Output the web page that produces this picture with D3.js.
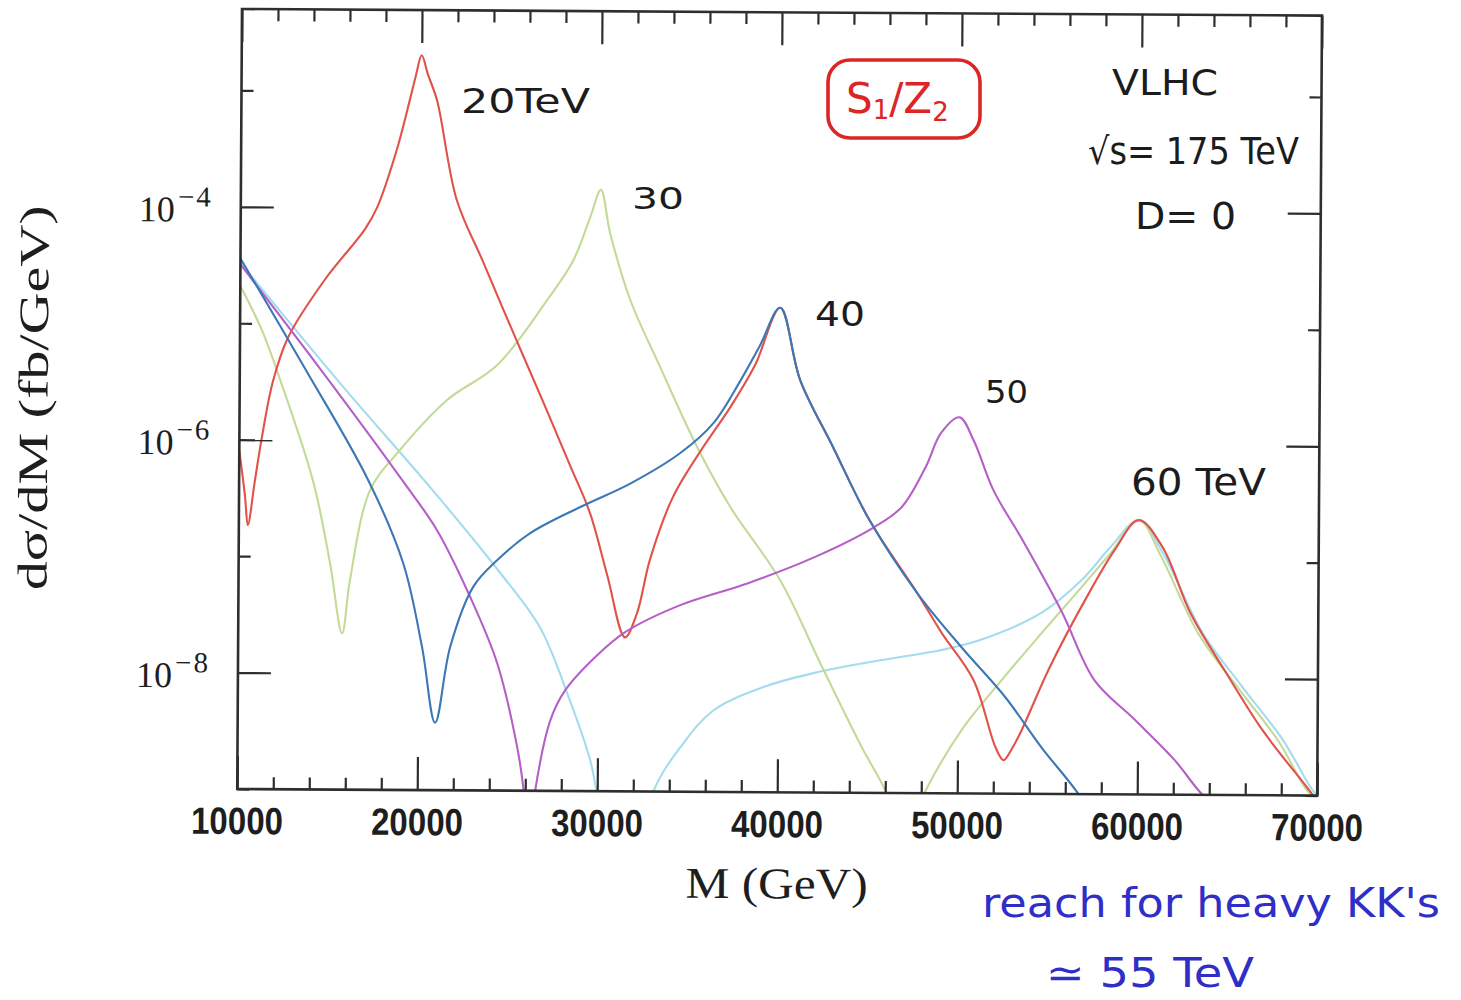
<!DOCTYPE html>
<html>
<head>
<meta charset="utf-8">
<script src="https://cdn.jsdelivr.net/npm/d3@7/dist/d3.min.js"></script>
<style>
  body { margin: 0; background: #ffffff; }
  svg { display: block; }
</style>
</head>
<body>
<svg id="chart" width="1461" height="1000"></svg>
<script>
// ---- axis ticks -------------------------------------------------------
const massTicks = [10000, 20000, 30000, 40000, 50000, 60000, 70000];
const massTickLabels = ["10000", "20000", "30000", "40000", "50000", "60000", "70000"];
const massMinorTicks = [12000, 14000, 16000, 18000, 22000, 24000, 26000, 28000,
  32000, 34000, 36000, 38000, 42000, 44000, 46000, 48000,
  52000, 54000, 56000, 58000, 62000, 64000, 66000, 68000];
const decadeTicks = [1e-4, 1e-6, 1e-8];
const decadeTickExponents = ["\u22124", "\u22126", "\u22128"];
const decadeMinorTicks = [1e-3, 1e-5, 1e-7, 1e-9];

// ---- dsigma/dM (fb/GeV) versus M (GeV), one curve per compactification scale ----
const seriesNames = ["20 TeV", "30 TeV", "40 TeV", "50 TeV", "60 TeV"];
const seriesColors = ["#e0524a", "#c3da98", "#3b78b5", "#b65fc6", "#a3dcef"];

const mass20 = [10000, 10330, 10500, 10880, 11250, 11850, 12670, 14700, 16900, 17570,
  18660, 19360, 19690, 20000, 20360, 20860, 22000, 23470, 25160, 26870,
  28390, 29500, 30480, 31490, 32150, 32850, 34110, 35760, 37250, 38640,
  40000, 41130, 42980, 45030, 47720, 49070, 50870, 52110, 52560, 53000,
  53550, 55090, 57120, 58660, 60000, 61330, 62910, 64930, 66950, 69420, 70000];
const xsec20 = [8.0e-7, 3.3e-7, 1.85e-7, 4.5e-7, 1.05e-6, 3.2e-6, 7.6e-6, 2.4e-5, 6.5e-5, 1.0e-4,
  3.2e-4, 8.5e-4, 1.38e-3, 2.05e-3, 1.39e-3, 8.5e-4, 1.17e-4, 3.5e-5, 8.7e-6, 2.18e-6,
  6.2e-7, 2.45e-7, 7.2e-8, 2.1e-8, 3.4e-8, 9.8e-8, 3.4e-7, 9.1e-7, 2.0e-6, 4.7e-6,
  1.45e-5, 3.5e-6, 9.3e-7, 2.2e-7, 5.2e-8, 2.4e-8, 9.4e-9, 2.5e-9, 1.94e-9, 2.4e-9,
  3.5e-9, 1.22e-8, 4.9e-8, 1.25e-7, 2.27e-7, 1.33e-7, 3.6e-8, 1.1e-8, 3.6e-9, 1.18e-9, 9.0e-10];

const mass30 = [10000, 11220, 12240, 14100, 15080, 15770, 16190, 17280, 18770, 21530,
  24290, 27050, 28490, 29420, 30000, 30530, 31670, 33360, 35440, 37300,
  40100, 42350, 44660, 46010, 47100, 48240, 50220, 52420, 54630, 56840,
  58440, 60000, 61200, 63360, 65600, 67840, 69350, 70000];
const xsec30 = [2.1e-5, 8.7e-6, 3.3e-6, 4.5e-7, 8.8e-8, 2.2e-8, 6.3e-8, 3.75e-7, 7.8e-7, 2.25e-6,
  4.5e-6, 1.64e-5, 3.6e-5, 8.5e-5, 1.46e-4, 6.2e-5, 1.66e-5, 4.4e-6, 9.1e-7, 2.8e-7,
  6.6e-8, 1.29e-8, 2.5e-9, 1.05e-9, 4.0e-10, 1.05e-9, 3.5e-9, 9.4e-9, 2.4e-8, 6.0e-8,
  1.18e-7, 2.27e-7, 1.15e-7, 2.4e-8, 8.2e-9, 2.9e-9, 1.15e-9, 9.0e-10];

const mass40 = [10000, 13630, 17160, 19140, 20220, 20970, 21780, 23040, 24360, 26190,
  28960, 31730, 34500, 36330, 37810, 38900, 40000, 41130, 42980, 45030,
  47720, 50190, 52650, 54670, 56580, 58000];
const xsec40 = [3.6e-5, 4.1e-6, 4.6e-7, 8.9e-8, 1.69e-8, 3.8e-9, 1.7e-8, 5.6e-8, 9.5e-8, 1.63e-7,
  2.75e-7, 4.4e-7, 8.1e-7, 1.47e-6, 3.4e-6, 6.9e-6, 1.45e-5, 3.5e-6, 9.3e-7, 2.2e-7,
  5.2e-8, 1.8e-8, 6.7e-9, 2.5e-9, 1.08e-9, 5.0e-10];

const mass50 = [10000, 14570, 19050, 21010, 22870, 24400, 25530, 25890, 26200, 26550,
  27360, 28180, 29950, 31500, 34550, 38270, 41930, 45260, 46810, 48130,
  48990, 50000, 50790, 51920, 53500, 55740, 57590, 59830, 62070, 63410, 65000];
const xsec50 = [3.2e-5, 3.9e-6, 4.6e-7, 1.71e-7, 4.6e-8, 1.24e-8, 2.4e-9, 1.07e-9, 3.0e-10, 1.0e-9,
  4.0e-9, 7.3e-9, 1.47e-8, 2.33e-8, 4.0e-8, 6.2e-8, 1.04e-7, 1.9e-7, 2.85e-7, 6.3e-7,
  1.25e-6, 1.7e-6, 1.08e-6, 4.0e-7, 1.55e-7, 3.7e-8, 9.5e-9, 4.4e-9, 1.98e-9, 1.09e-9, 6.0e-10];

const mass60 = [10000, 15570, 20610, 24420, 26780, 28300, 29600, 29940, 31500, 33110,
  34600, 36420, 39200, 41970, 45690, 49080, 51300, 54630, 56840, 58440,
  60000, 61340, 63580, 65830, 68070, 69640, 70000];
const xsec60 = [3.3e-5, 3.1e-6, 4.0e-7, 7.8e-8, 2.5e-8, 6.9e-9, 1.84e-9, 1.05e-9, 1.0e-10, 1.0e-9,
  2.4e-9, 5.0e-9, 8.0e-9, 1.06e-8, 1.38e-8, 1.7e-8, 2.1e-8, 3.6e-8, 6.9e-8, 1.33e-7,
  2.27e-7, 1.19e-7, 2.45e-8, 8.4e-9, 3.0e-9, 1.17e-9, 1.0e-9];

// paint order: lighter curves first, the 40 TeV curve on top
const drawOrder = [4, 1, 0, 3, 2];

// ---- layout -------------------------------------------------------------
const plotLeft = 242, plotTop = 9, plotW = 1080, plotH = 780, tilt = 0.35;
const inkColor = "#2e2e2e";

const svg = d3.select("#chart");
const massSets = [mass20, mass30, mass40, mass50, mass60];
const xsecSets = [xsec20, xsec30, xsec40, xsec50, xsec60];
const series = seriesNames.map((name, i) => ({
  name,
  color: seriesColors[i],
  points: massSets[i].map((m, j) => [m, xsecSets[i][j]])
}));

const x = d3.scaleLinear().domain([10000, 70000]).range([0, plotW]);
const y = d3.scaleLog().domain([1e-9, 5e-3]).range([plotH, 0]);

const g = svg.append("g")
  .attr("transform", `translate(${plotLeft},${plotTop}) rotate(${tilt})`);

g.append("clipPath").attr("id", "plot-clip")
  .append("rect").attr("x", 0).attr("y", 0).attr("width", plotW).attr("height", plotH);

// curves
const line = d3.line()
  .x(d => x(d[0]))
  .y(d => y(d[1]))
  .curve(d3.curveCatmullRom.alpha(0.5));

const curveLayer = g.append("g").attr("clip-path", "url(#plot-clip)");
curveLayer.selectAll("path.curve")
  .data(drawOrder.map(i => series[i]))
  .join("path")
  .attr("class", "curve")
  .attr("d", d => line(d.points))
  .attr("fill", "none")
  .attr("stroke", d => d.color)
  .attr("stroke-width", 2.1)
  .attr("stroke-linejoin", "round");

// ticks on all four sides, pointing into the frame
function styleAxis(sel) {
  sel.select(".domain").remove();
  sel.selectAll(".tick line").attr("stroke", inkColor).attr("stroke-width", 2.2);
  sel.selectAll(".tick text").remove();
}
const majorLen = 33, minorLen = 12;
g.append("g").attr("transform", `translate(0,${plotH})`)
  .call(d3.axisBottom(x).tickValues(massTicks).tickSize(-majorLen)).call(styleAxis);
g.append("g").attr("transform", `translate(0,${plotH})`)
  .call(d3.axisBottom(x).tickValues(massMinorTicks).tickSize(-minorLen)).call(styleAxis);
g.append("g")
  .call(d3.axisTop(x).tickValues(massTicks).tickSize(-majorLen)).call(styleAxis);
g.append("g")
  .call(d3.axisTop(x).tickValues(massMinorTicks).tickSize(-minorLen)).call(styleAxis);
g.append("g")
  .call(d3.axisLeft(y).tickValues(decadeTicks).tickSize(-majorLen)).call(styleAxis);
g.append("g")
  .call(d3.axisLeft(y).tickValues(decadeMinorTicks).tickSize(-minorLen)).call(styleAxis);
g.append("g").attr("transform", `translate(${plotW},0)`)
  .call(d3.axisRight(y).tickValues(decadeTicks).tickSize(-majorLen)).call(styleAxis);
g.append("g").attr("transform", `translate(${plotW},0)`)
  .call(d3.axisRight(y).tickValues(decadeMinorTicks).tickSize(-minorLen)).call(styleAxis);

// frame
g.append("rect")
  .attr("x", 0).attr("y", 0).attr("width", plotW).attr("height", plotH)
  .attr("fill", "none").attr("stroke", inkColor).attr("stroke-width", 2.6);

// x tick labels
g.append("g").selectAll("text")
  .data(massTicks)
  .join("text")
  .attr("x", d => x(d))
  .attr("y", plotH + 45)
  .attr("text-anchor", "middle")
  .attr("font-family", "'Liberation Sans', Arial, sans-serif")
  .attr("font-weight", "bold")
  .attr("font-size", 38)
  .attr("textLength", 92)
  .attr("lengthAdjust", "spacingAndGlyphs")
  .attr("fill", "#1e1e1e")
  .text((d, i) => massTickLabels[i]);

// y tick labels: 10 with a raised exponent
const yLab = g.append("g").selectAll("text")
  .data(decadeTicks)
  .join("text")
  .attr("x", -28)
  .attr("y", d => y(d) + 15)
  .attr("text-anchor", "end")
  .attr("font-family", "'Liberation Serif', 'Times New Roman', serif")
  .attr("fill", "#1e1e1e");
yLab.append("tspan").attr("font-size", 36).text("10");
yLab.append("tspan").attr("font-size", 29).attr("dy", -15).attr("dx", 3)
  .attr("letter-spacing", 2)
  .text((d, i) => decadeTickExponents[i]);

// axis titles
g.append("text")
  .attr("x", plotW / 2)
  .attr("y", plotH + 106)
  .attr("text-anchor", "middle")
  .attr("font-family", "'Liberation Serif', 'Times New Roman', serif")
  .attr("font-size", 44)
  .attr("textLength", 182)
  .attr("lengthAdjust", "spacingAndGlyphs")
  .attr("fill", "#1e1e1e")
  .text("M (GeV)");

g.append("text")
  .attr("transform", `translate(-192,${plotH / 2}) rotate(-90)`)
  .attr("text-anchor", "middle")
  .attr("font-family", "'Liberation Serif', 'Times New Roman', serif")
  .attr("font-size", 42)
  .attr("textLength", 385)
  .attr("lengthAdjust", "spacingAndGlyphs")
  .attr("fill", "#1e1e1e")
  .text("d\u03c3/dM (fb/GeV)");

// ---- hand-written notes ------------------------------------------------
const handFont = "'DejaVu Sans', 'Noto Sans', sans-serif";
function note(txt, px, py, size, len, color) {
  return svg.append("text")
    .attr("x", px).attr("y", py)
    .attr("font-family", handFont)
    .attr("font-size", size)
    .attr("textLength", len)
    .attr("lengthAdjust", "spacingAndGlyphs")
    .attr("fill", color || "#1c1c1c")
    .text(txt);
}
note("20TeV", 461, 113, 34, 129);
note("30", 632, 209, 30, 52);
note("40", 815, 326, 34, 50);
note("50", 985, 403, 32, 43);
note("60 TeV", 1131, 495, 38, 135);
note("VLHC", 1112, 95, 36, 106);
note("\u221As= 175 TeV", 1088, 164, 37, 211);
note("D= 0", 1135, 229, 38, 101);
note("reach for heavy KK's", 982, 917, 40, 458, "#2f2fc8");
note("\u2243 55 TeV", 1046, 987, 40, 208, "#2f2fc8");

// boxed model label
const modelRed = "#dc2626";
svg.append("rect")
  .attr("x", 828).attr("y", 60).attr("width", 152).attr("height", 78)
  .attr("rx", 22).attr("ry", 22)
  .attr("fill", "none").attr("stroke", modelRed).attr("stroke-width", 3.6);
const model = svg.append("text")
  .attr("x", 846).attr("y", 113)
  .attr("font-family", handFont)
  .attr("fill", modelRed);
model.append("tspan").attr("font-size", 42).text("S");
model.append("tspan").attr("font-size", 26).attr("dy", 6).text("1");
model.append("tspan").attr("font-size", 42).attr("dy", -6).text("/Z");
model.append("tspan").attr("font-size", 26).attr("dy", 8).text("2");
</script>
</body>
</html>
